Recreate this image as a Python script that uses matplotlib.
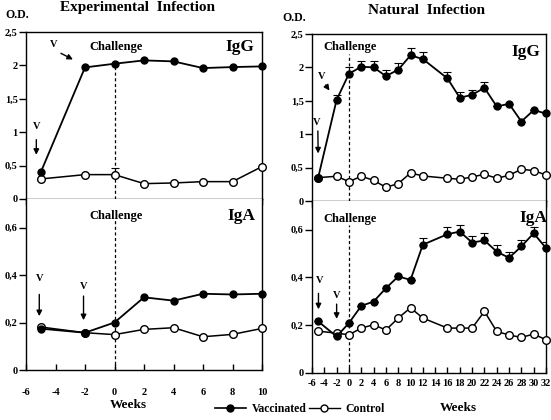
import numpy as np
import matplotlib
matplotlib.use('Agg')
import matplotlib.pyplot as plt

plt.rcParams['font.family'] = ['Liberation Serif', 'DejaVu Serif']
plt.rcParams['font.weight'] = 'bold'

# Experimental infection
exp_weeks = [-5, -2, 0, 2, 4, 6, 8, 10]
exp_igg_vacc = [0.40, 1.97, 2.025, 2.075, 2.06, 1.96, 1.975, 1.985]
exp_igg_ctrl = [0.30, 0.365, 0.365, 0.23, 0.24, 0.26, 0.26, 0.485]
exp_igg_ctrl_err = [0, 0, 0.10, 0, 0, 0, 0, 0]
exp_iga_vacc = [0.174, 0.157, 0.20, 0.306, 0.292, 0.321, 0.318, 0.321]
exp_iga_ctrl = [0.181, 0.157, 0.149, 0.171, 0.178, 0.140, 0.150, 0.175]

# Natural infection
nat_weeks = [-5, -2, 0, 2, 4, 6, 8, 10, 12, 16, 18, 20, 22, 24, 26, 28, 30, 32]
nat_igg_vacc = [0.35, 1.515, 1.905, 2.01, 2.0, 1.87, 1.965, 2.18, 2.125, 1.835,
                1.545, 1.59, 1.695, 1.415, 1.455, 1.19, 1.36, 1.31]
nat_igg_vacc_err = [0, 0.075, 0.10, 0.09, 0.10, 0.09, 0.10, 0.11, 0.105, 0.10,
                    0.09, 0.075, 0.09, 0, 0, 0, 0, 0]
nat_igg_ctrl = [0.35, 0.37, 0.29, 0.37, 0.31, 0.205, 0.26, 0.42, 0.375, 0.34,
                0.325, 0.36, 0.40, 0.34, 0.385, 0.475, 0.455, 0.39]
nat_iga_vacc = [0.216, 0.153, 0.209, 0.281, 0.299, 0.355, 0.404, 0.39, 0.537, 0.581,
                0.592, 0.546, 0.555, 0.508, 0.482, 0.53, 0.585, 0.523]
nat_iga_vacc_err = [0, 0, 0, 0, 0, 0, 0, 0, 0.027, 0.029,
                    0.029, 0.028, 0.029, 0.027, 0.023, 0.027, 0.025, 0.027]
nat_iga_ctrl = [0.175, 0.167, 0.16, 0.188, 0.202, 0.18, 0.23, 0.273, 0.23, 0.188,
                0.188, 0.188, 0.258, 0.174, 0.159, 0.149, 0.163, 0.139]

igg_ticks = [0, 0.5, 1, 1.5, 2, 2.5]
igg_labels = ['0', '0,5', '1', '1,5', '2', '2,5']
iga_ticks = [0, 0.2, 0.4, 0.6]
iga_labels = ['0', '0,2', '0,4', '0,6']

W, H = 551, 420
fig = plt.figure(figsize=(5.51, 4.2), dpi=100)


def box(x0, x1, ytop, ybot):
    return [x0 / W, 1 - ybot / H, (x1 - x0) / W, (ybot - ytop) / H]


ax1 = fig.add_axes(box(26, 262, 32, 199))
ax2 = fig.add_axes(box(26, 262, 199, 370))
ax3 = fig.add_axes(box(312, 546, 34, 201))
ax4 = fig.add_axes(box(312, 546, 201, 373))

tick_font = dict(fontsize=7.5, fontweight='bold')


def style(ax, xmax, upper, xpad=8):
    ax.set_xlim(-6, xmax)
    ax.set_xticks(np.arange(-6, xmax + 1, 2))
    for s in ax.spines.values():
        s.set_linewidth(1.0)
    ax.tick_params(axis='y', direction='out', length=5, width=1, pad=1)
    ax.tick_params(right=False, top=False)
    if upper:
        ax.set_ylim(0, 2.5)
        ax.set_yticks(igg_ticks)
        ax.set_yticklabels(igg_labels, **tick_font)
        ax.tick_params(axis='x', direction='out', length=4, width=1, labelbottom=False)
    else:
        ax.set_ylim(0, 0.72)
        ax.set_yticks(iga_ticks)
        ax.set_yticklabels(iga_labels, **tick_font)
        ax.spines['top'].set_visible(False)
        ax.tick_params(axis='x', direction='in', length=4, width=1, pad=xpad)
        ax.set_xticklabels([str(v) for v in np.arange(-6, xmax + 1, 2)], **tick_font)


def series(ax, x, vacc, ctrl, vacc_err=None, ctrl_err=None):
    if vacc_err is not None:
        ax.errorbar(x, vacc, yerr=[np.zeros(len(x)), vacc_err], fmt='none',
                    ecolor='black', elinewidth=0.8, capsize=3, capthick=0.8)
    if ctrl_err is not None:
        ax.errorbar(x, ctrl, yerr=[np.zeros(len(x)), ctrl_err], fmt='none',
                    ecolor='black', elinewidth=0.8, capsize=3, capthick=0.8)
    ax.plot(x, ctrl, '-o', color='black', lw=1.1, ms=5.5, mfc='white', mec='black', mew=1.0,
            zorder=3, clip_on=False)
    ax.plot(x, vacc, '-o', color='black', lw=1.3, ms=5, mfc='black', mec='black', zorder=4,
            clip_on=False)


style(ax1, 10, True)
style(ax2, 10, False, xpad=13)
style(ax3, 32, True)
style(ax4, 32, False, xpad=4)

series(ax1, exp_weeks, exp_igg_vacc, exp_igg_ctrl, ctrl_err=exp_igg_ctrl_err)
series(ax2, exp_weeks, exp_iga_vacc, exp_iga_ctrl)
series(ax3, nat_weeks, nat_igg_vacc, nat_igg_ctrl, vacc_err=nat_igg_vacc_err)
series(ax4, nat_weeks, nat_iga_vacc, nat_iga_ctrl, vacc_err=nat_iga_vacc_err)

# challenge lines
dash = dict(color='black', lw=0.9, zorder=1, dashes=(2.5, 2))
ax1.plot([0, 0], [0, 2.02], **dash)
ax2.plot([0, 0], [0, 0.63], **dash)
ax3.plot([0, 0], [0, 2.2], **dash)
ax4.plot([0, 0], [0, 0.62], **dash)

lab = dict(fontsize=9, fontweight='bold', ha='center', va='center')
ax1.text(0.1, 2.27, 'Challenge', **lab)
ax2.text(0.1, 0.65, 'Challenge', **lab)
ax3.text(0.1, 2.3, 'Challenge', **lab)
ax4.text(0.1, 0.646, 'Challenge', **lab)

big = dict(fontsize=12.5, fontweight='bold', ha='center', va='center')
ax1.text(8.5, 2.27, 'IgG', **big)
ax2.text(8.6, 0.65, 'IgA', **big)
ax3.text(28.8, 2.23, 'IgG', **big)
ax4.text(30.0, 0.65, 'IgA', **big)

arr = dict(arrowstyle='-|>', color='black', lw=1.0, mutation_scale=8)
vfont = dict(fontsize=7.5, fontweight='bold', ha='center', va='center')


def vmark(ax, tx, ty, x0, y0, x1, y1):
    ax.text(tx, ty, 'V', **vfont)
    ax.annotate('', xy=(x1, y1), xytext=(x0, y0), arrowprops=arr)


vmark(ax1, -5.3, 1.08, -5.3, 0.93, -5.3, 0.62)
vmark(ax1, -4.15, 2.31, -3.8, 2.2, -2.65, 2.07)
vmark(ax2, -5.1, 0.387, -5.1, 0.33, -5.1, 0.215)
vmark(ax2, -2.1, 0.353, -2.1, 0.323, -2.1, 0.198)
vmark(ax3, -5.2, 1.18, -5.05, 1.09, -5.0, 0.67)
vmark(ax3, -4.4, 1.87, -4.05, 1.77, -2.9, 1.62)
vmark(ax4, -4.7, 0.388, -4.95, 0.345, -4.95, 0.255)
vmark(ax4, -1.95, 0.325, -2.0, 0.30, -2.0, 0.215)

fig.text(137 / W, 1 - 8 / H, 'Experimental  Infection', fontsize=11, fontweight='bold',
         ha='center', va='center')
fig.text(427 / W, 1 - 10 / H, 'Natural  Infection', fontsize=11, fontweight='bold',
         ha='center', va='center')
fig.text(5 / W, 1 - 15 / H, 'O.D.', fontsize=8.5, fontweight='bold', ha='left', va='center')
fig.text(282 / W, 1 - 18 / H, 'O.D.', fontsize=8.5, fontweight='bold', ha='left', va='center')
fig.text(128 / W, 1 - 405 / H, 'Weeks', fontsize=9.5, fontweight='bold', ha='center', va='center')
fig.text(458 / W, 1 - 408 / H, 'Weeks', fontsize=9.5, fontweight='bold', ha='center', va='center')

h1, = ax1.plot([], [], '-o', color='black', lw=1.2, ms=5, mfc='black')
h2, = ax1.plot([], [], '-o', color='black', lw=1.0, ms=5, mfc='white')
fig.legend([h1, h2], ['Vaccinated', 'Control'], loc='center',
           bbox_to_anchor=(300 / W, 1 - 409 / H), ncol=2, frameon=False,
           handlelength=2.6, handletextpad=0.5, columnspacing=0.2,
           prop=dict(size=8.5, weight='bold'))

fig.savefig('out.png', dpi=100)
